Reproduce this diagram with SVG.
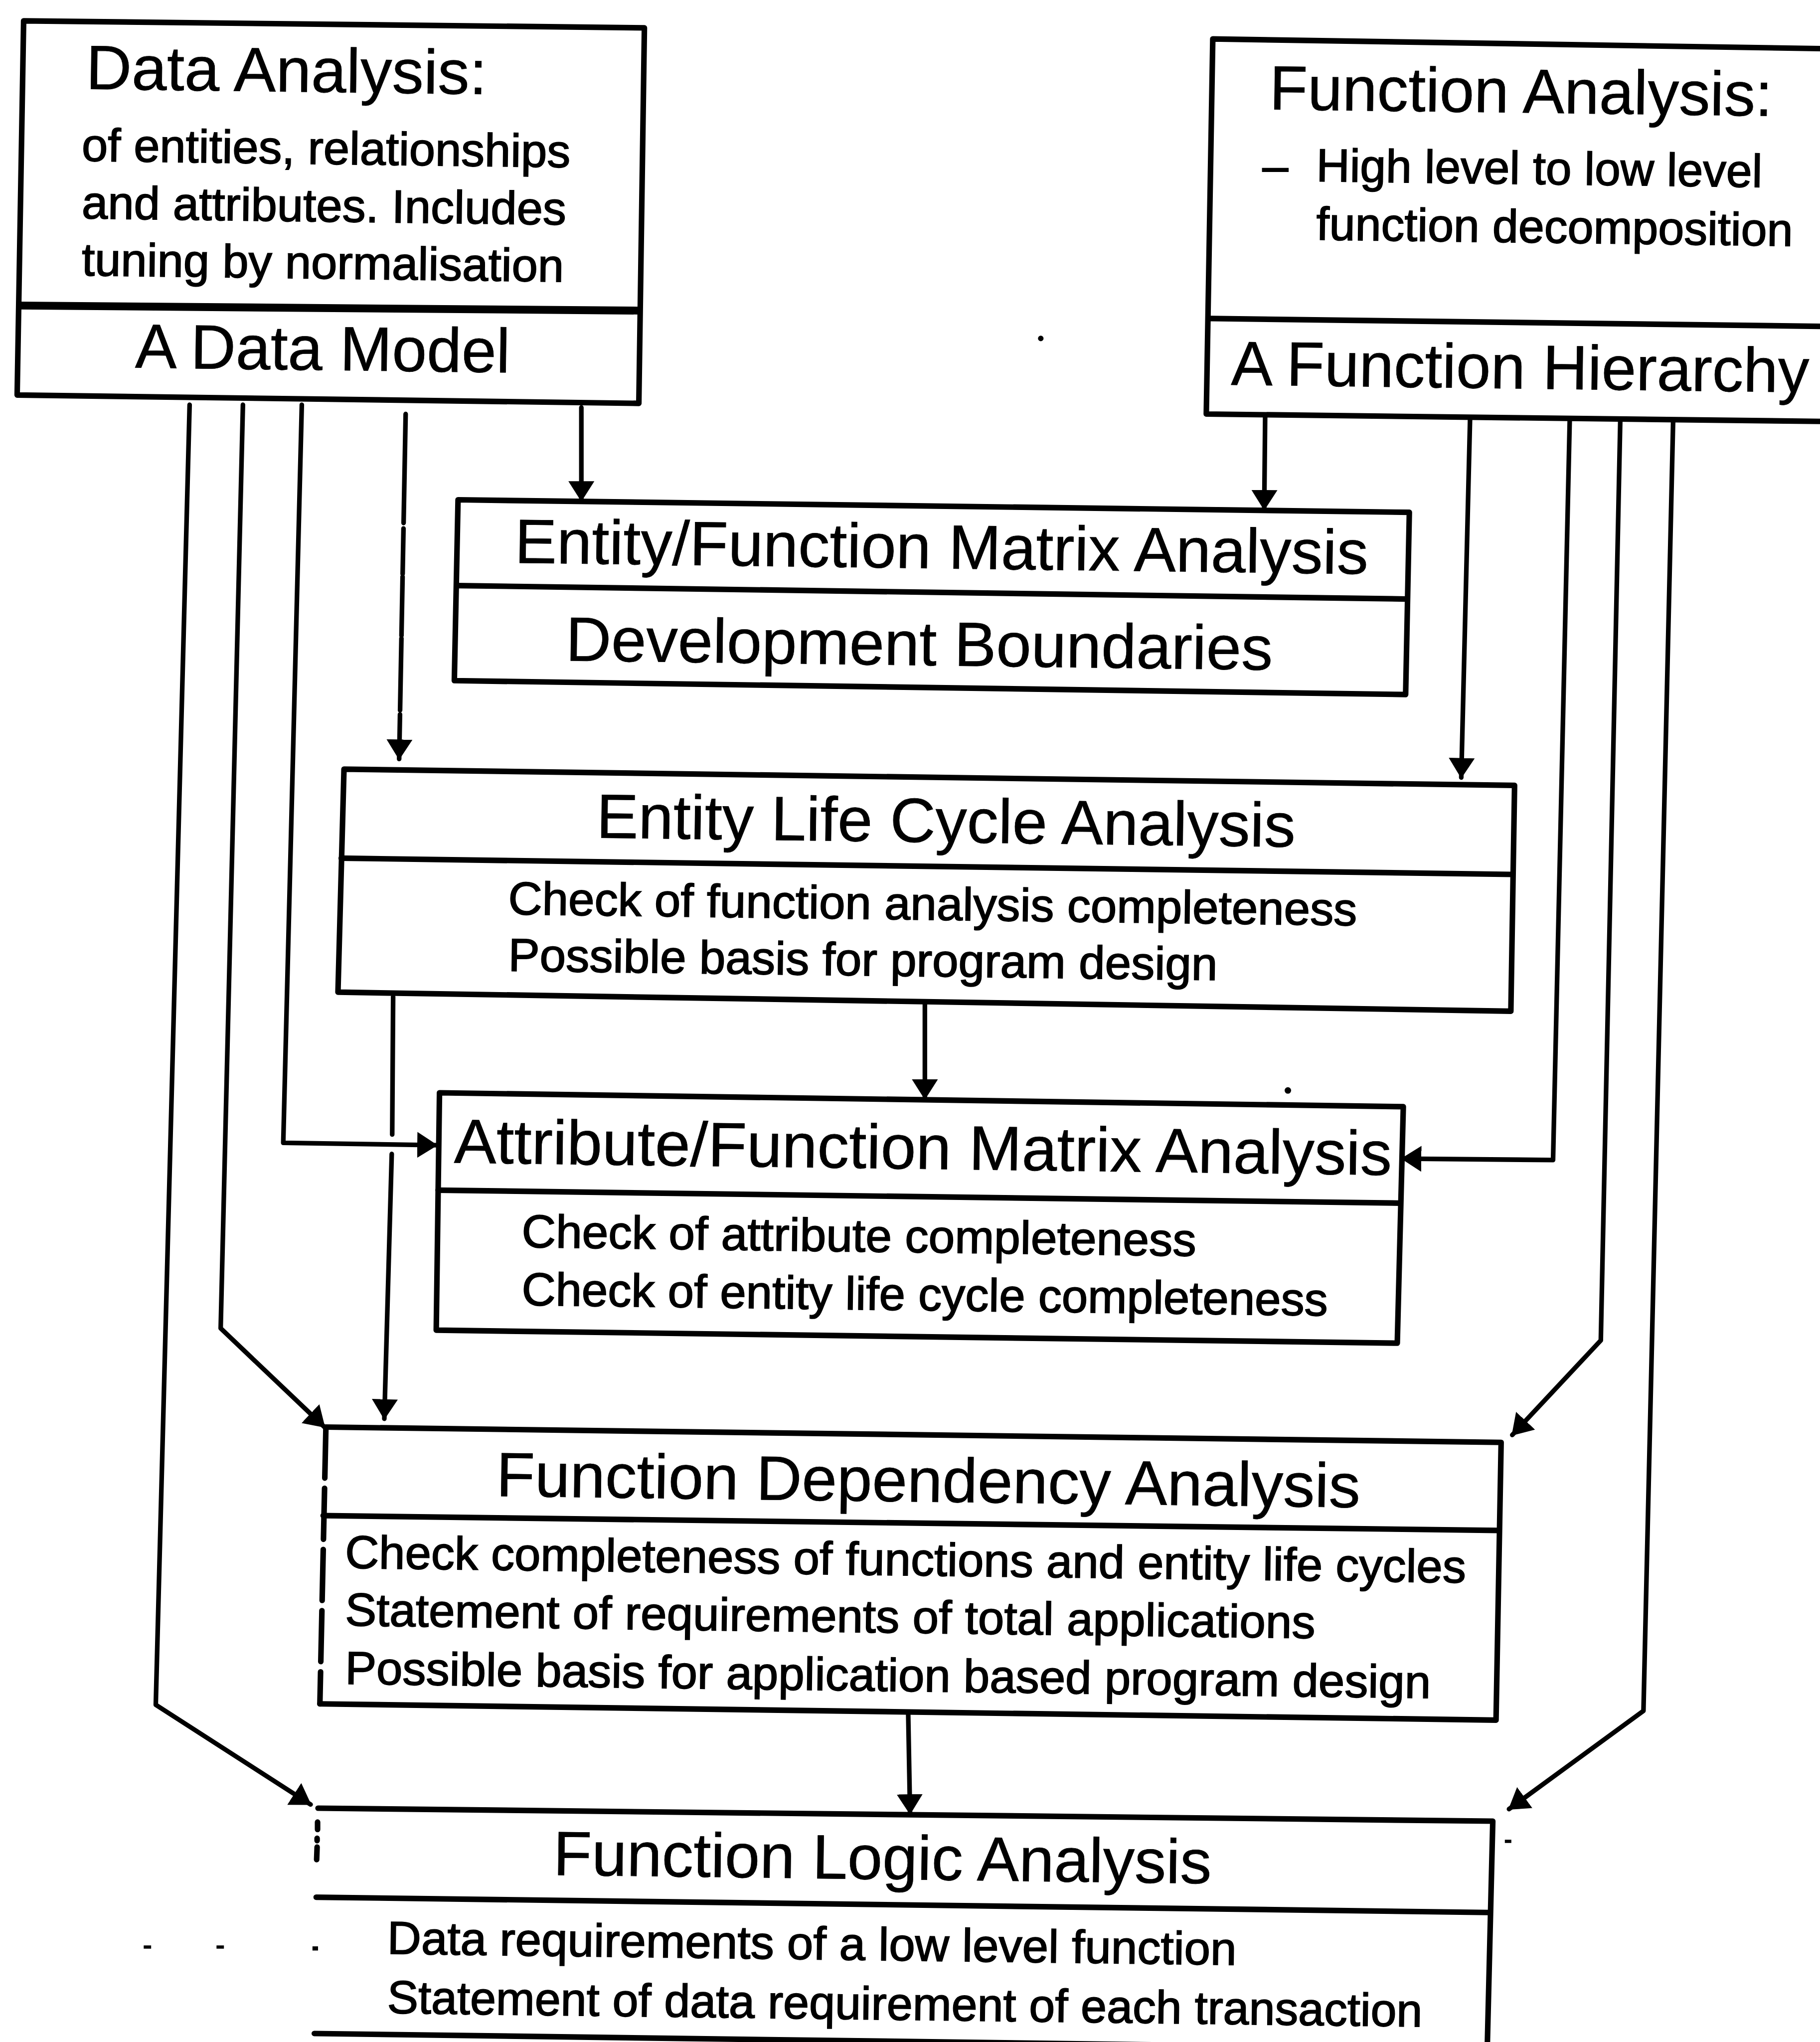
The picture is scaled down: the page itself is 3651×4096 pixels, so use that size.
<svg xmlns="http://www.w3.org/2000/svg" width="3651" height="4096" viewBox="0 0 3651 4096">
<defs>
<style>
.box{fill:none;stroke:#000;stroke-width:12;stroke-linejoin:round;stroke-linecap:round}
.dash{stroke-dasharray:110 22}
.conn{fill:none;stroke:#000;stroke-width:10;stroke-linejoin:round;stroke-linecap:round}
text{font-family:"Liberation Sans",Arial,sans-serif;fill:#000}
.t{font-size:135px;stroke:#000;stroke-width:0.8}
.b{font-size:100px;stroke:#000;stroke-width:2}
</style>
<marker id="arrow" markerUnits="userSpaceOnUse" viewBox="0 0 44 56" markerWidth="44" markerHeight="56" refX="42" refY="28" orient="auto">
<path d="M0,0 L44,28 L0,56 Z" fill="#000"/>
</marker>
</defs>
<rect width="3651" height="4096" fill="#fff"/>
<!-- drawing laid out in source units, scaled to the page -->
<g transform="scale(0.93)">

<g id="data-analysis">
<path class="box" d="M51,45 L1390,60 L1378,870 L37,852 Z"/>
<path class="box" style="stroke-width:17;stroke-linecap:butt" d="M40,659 L1383,670"/>
<text class="t" x="185" y="192" textLength="865" lengthAdjust="spacingAndGlyphs" transform="rotate(0.75 185 192)">Data Analysis:</text>
<text class="b" x="176" y="347" textLength="1054" lengthAdjust="spacingAndGlyphs" transform="rotate(0.75 176 347)">of entities, relationships</text>
<text class="b" x="176" y="471" textLength="1045" lengthAdjust="spacingAndGlyphs" transform="rotate(0.75 176 471)">and attributes. Includes</text>
<text class="b" x="176" y="594" textLength="1040" lengthAdjust="spacingAndGlyphs" transform="rotate(0.75 176 594)">tuning by normalisation</text>
<text class="t" x="291" y="793" textLength="809" lengthAdjust="spacingAndGlyphs" transform="rotate(0.75 291 793)">A Data Model</text>
</g>

<g id="function-analysis">
<path class="box" d="M3935,105 L2616,84 L2602,893 L3935,909"/>
<path class="box" d="M2611,687 L3935,704"/>
<text class="t" x="2738" y="236" textLength="1085" lengthAdjust="spacingAndGlyphs" transform="rotate(0.75 2738 236)">Function Analysis:</text>
<text class="b" x="2723" y="391">–</text>
<text class="b" x="2839" y="391" textLength="962" lengthAdjust="spacingAndGlyphs" transform="rotate(0.75 2839 391)">High level to low level</text>
<text class="b" x="2839" y="517" textLength="1028" lengthAdjust="spacingAndGlyphs" transform="rotate(0.75 2839 517)">function decomposition</text>
<text class="t" x="2655" y="830" textLength="1247" lengthAdjust="spacingAndGlyphs" transform="rotate(0.75 2655 830)">A Function Hierarchy</text>
</g>

<g id="entity-function-matrix">
<path class="box" d="M988,1078 L3040,1105 L3032,1498 L980,1468 Z"/>
<path class="box" d="M985,1263 L3035,1292"/>
<text class="t" x="1110" y="1214" textLength="1841" lengthAdjust="spacingAndGlyphs" transform="rotate(0.75 1110 1214)">Entity/Function Matrix Analysis</text>
<text class="t" x="1220" y="1425" textLength="1525" lengthAdjust="spacingAndGlyphs" transform="rotate(0.75 1220 1425)">Development Boundaries</text>
</g>

<g id="entity-life-cycle">
<path class="box" d="M742,1659 L3267,1694 L3259,2181 L729,2140 Z"/>
<path class="box" d="M736,1851 L3263,1886"/>
<text class="t" x="1286" y="1807" textLength="1508" lengthAdjust="spacingAndGlyphs" transform="rotate(0.75 1286 1807)">Entity Life Cycle Analysis</text>
<text class="b" x="1096" y="1972" textLength="1831" lengthAdjust="spacingAndGlyphs" transform="rotate(0.75 1096 1972)">Check of function analysis completeness</text>
<text class="b" x="1096" y="2094" textLength="1530" lengthAdjust="spacingAndGlyphs" transform="rotate(0.75 1096 2094)">Possible basis for program design</text>
</g>

<g id="attribute-function-matrix">
<path class="box" d="M948,2357 L3027,2387 L3014,2897 L941,2869 Z"/>
<path class="box" d="M945,2567 L3020,2595"/>
<text class="t" x="979" y="2508" textLength="2023" lengthAdjust="spacingAndGlyphs" transform="rotate(0.75 979 2508)">Attribute/Function Matrix Analysis</text>
<text class="b" x="1125" y="2690" textLength="1455" lengthAdjust="spacingAndGlyphs" transform="rotate(0.75 1125 2690)">Check of attribute completeness</text>
<text class="b" x="1125" y="2815" textLength="1739" lengthAdjust="spacingAndGlyphs" transform="rotate(0.75 1125 2815)">Check of entity life cycle completeness</text>
</g>

<g id="function-dependency">
<path class="box" d="M703,3078 L3238,3111 L3227,3710 L690,3675"/>
<path class="box dash" d="M703,3078 L690,3675"/>
<path class="box" d="M697,3269 L3231,3301"/>
<text class="t" x="1070" y="3227" textLength="1864" lengthAdjust="spacingAndGlyphs" transform="rotate(0.75 1070 3227)">Function Dependency Analysis</text>
<text class="b" x="744" y="3382" textLength="2418" lengthAdjust="spacingAndGlyphs" transform="rotate(0.75 744 3382)">Check completeness of functions and entity life cycles</text>
<text class="b" x="744" y="3506" textLength="2093" lengthAdjust="spacingAndGlyphs" transform="rotate(0.75 744 3506)">Statement of requirements of total applications</text>
<text class="b" x="744" y="3632" textLength="2342" lengthAdjust="spacingAndGlyphs" transform="rotate(0.75 744 3632)">Possible basis for application based program design</text>
</g>

<g id="function-logic">
<path class="box" d="M3208,4420 L3220,3928 L686,3900"/>
<path class="box" d="M682,4092 L3211,4125"/>
<path class="box" d="M678,4386 L3208,4420"/>
<path class="box" d="M685,3930 L685,3946 M684,3965 L684,3970 M684,3984 L683,4011"/>
<text class="t" x="1193" y="4044" textLength="1420" lengthAdjust="spacingAndGlyphs" transform="rotate(0.75 1193 4044)">Function Logic Analysis</text>
<text class="b" x="835" y="4214" textLength="1832" lengthAdjust="spacingAndGlyphs" transform="rotate(0.75 835 4214)">Data requirements of a low level function</text>
<text class="b" x="835" y="4342" textLength="2233" lengthAdjust="spacingAndGlyphs" transform="rotate(0.75 835 4342)">Statement of data requirement of each transaction</text>
</g>

<g id="connectors">
<path class="conn" marker-end="url(#arrow)" d="M409,873 L336,3677 L670,3892"/>
<path class="conn" marker-end="url(#arrow)" d="M524,873 L476,2865 L700,3078"/>
<path class="conn" marker-end="url(#arrow)" d="M651,873 L611,2465 L942,2470"/>
<path class="conn" marker-end="url(#arrow)" stroke-dasharray="235 12 98 6 127 6 155 9 300" d="M875,893 L861,1637"/>
<path class="conn" marker-end="url(#arrow)" d="M1254,879 L1254,1080"/>
<path class="conn" marker-end="url(#arrow)" d="M2729,896 L2727,1099"/>
<path class="conn" marker-end="url(#arrow)" d="M3171,902 L3152,1677"/>
<path class="conn" marker-end="url(#arrow)" d="M3386,904 L3350,2502 L3024,2499"/>
<path class="conn" marker-end="url(#arrow)" d="M3495,906 L3453,2891 L3262,3095"/>
<path class="conn" marker-end="url(#arrow)" d="M3609,908 L3545,3690 L3255,3902"/>
<path class="conn" d="M848,2150 L846,2447"/>
<path class="conn" marker-end="url(#arrow)" d="M845,2489 L829,3060"/>
<path class="conn" marker-end="url(#arrow)" d="M1995,2162 L1995,2370"/>
<path class="conn" marker-end="url(#arrow)" d="M1959,3694 L1963,3912"/>
</g>

<g id="specks" fill="#000">
<circle cx="2245" cy="730" r="6"/>
<circle cx="2778" cy="2352" r="7"/>
<rect x="310" y="4196" width="16" height="7"/>
<rect x="467" y="4196" width="16" height="7"/>
<rect x="674" y="4198" width="12" height="9"/>
<rect x="3246" y="3968" width="14" height="7"/>
</g>

</g>
</svg>
